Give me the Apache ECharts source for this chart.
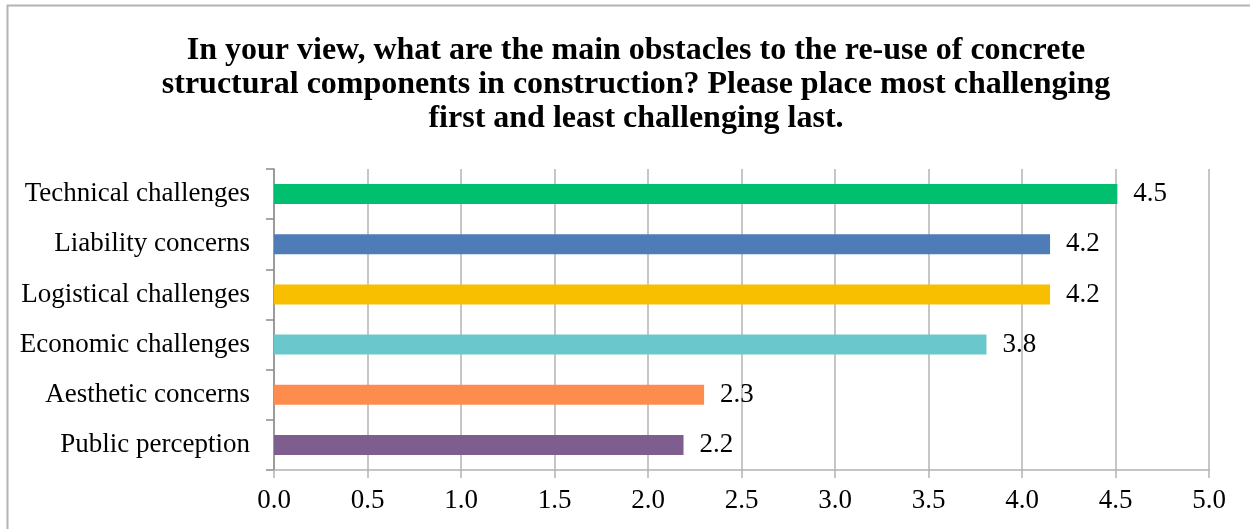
<!DOCTYPE html>
<html>
<head>
<meta charset="utf-8">
<script src="https://cdn.jsdelivr.net/npm/echarts@6/dist/echarts.min.js"></script>
<style>
html,body{margin:0;padding:0;background:#fff;}
#chart{width:1250px;height:529px;}
</style>
</head>
<body>
<div id="chart"></div>
<script>
var categories = ["Public perception", "Aesthetic concerns", "Economic challenges", "Logistical challenges", "Liability concerns", "Technical challenges"];
var values = [2.19, 2.3, 3.81, 4.15, 4.15, 4.51];
var labels = ["2.2", "2.3", "3.8", "4.2", "4.2", "4.5"];
var colors = ["#7e5e8f", "#fe8c4f", "#6ac8cc", "#f8bf00", "#4e7cb6", "#00bf6f"];
var xTicks = [0, 0.5, 1, 1.5, 2, 2.5, 3, 3.5, 4, 4.5, 5];

var myChart = echarts.init(document.getElementById("chart"));

var barData = [];
for (var i = 0; i < values.length; i++) {
	barData.push({value: values[i], itemStyle: {color: colors[i]}, label: {formatter: labels[i]}});
}

var option = {
	backgroundColor: '#fff',
	animation: false,
	title: {
		text: "In your view, what are the main obstacles to the re-use of concrete\nstructural components in construction? Please place most challenging\nfirst and least challenging last.",
		left: 631,
		top: 29,
		textAlign: 'center',
		textStyle: {
			fontFamily: 'Liberation Serif',
			fontWeight: 'bold',
			fontSize: 32,
			lineHeight: 34,
			color: '#000'
		}
	},
	graphic: [{
		type: 'rect',
		shape: {x: 7.5, y: 5.5, width: 1260, height: 560},
		style: {fill: null, stroke: '#b3b3b3', lineWidth: 2},
		silent: true
	}],
	grid: {left: 274, right: 41, top: 169, bottom: 59},
	xAxis: {
		type: 'value',
		min: 0,
		max: 5,
		interval: 0.5,
		axisLine: {show: true, lineStyle: {color: '#b3b3b3', width: 1.5}},
		axisTick: {show: true, length: 8, lineStyle: {color: '#b3b3b3', width: 1.5}},
		splitLine: {show: true, lineStyle: {color: '#b3b3b3', width: 1.5}},
		axisLabel: {
			margin: 17,
			fontFamily: 'Liberation Serif',
			fontSize: 27,
			color: '#000',
			formatter: function (v) { return v.toFixed(1); }
		}
	},
	yAxis: {
		type: 'category',
		data: categories,
		axisLine: {show: true, lineStyle: {color: '#8c8c8c', width: 1.5}},
		axisTick: {show: true, length: 8, lineStyle: {color: '#8c8c8c', width: 1.5}},
		axisLabel: {
			margin: 24,
			fontFamily: 'Liberation Serif',
			fontSize: 27,
			color: '#000'
		}
	},
	series: [{
		type: 'bar',
		data: barData,
		barWidth: 20,
		label: {
			show: true,
			position: 'right',
			distance: 16,
			fontFamily: 'Liberation Serif',
			fontSize: 27,
			color: '#000'
		}
	}]
};

myChart.setOption(option);
</script>
</body>
</html>
